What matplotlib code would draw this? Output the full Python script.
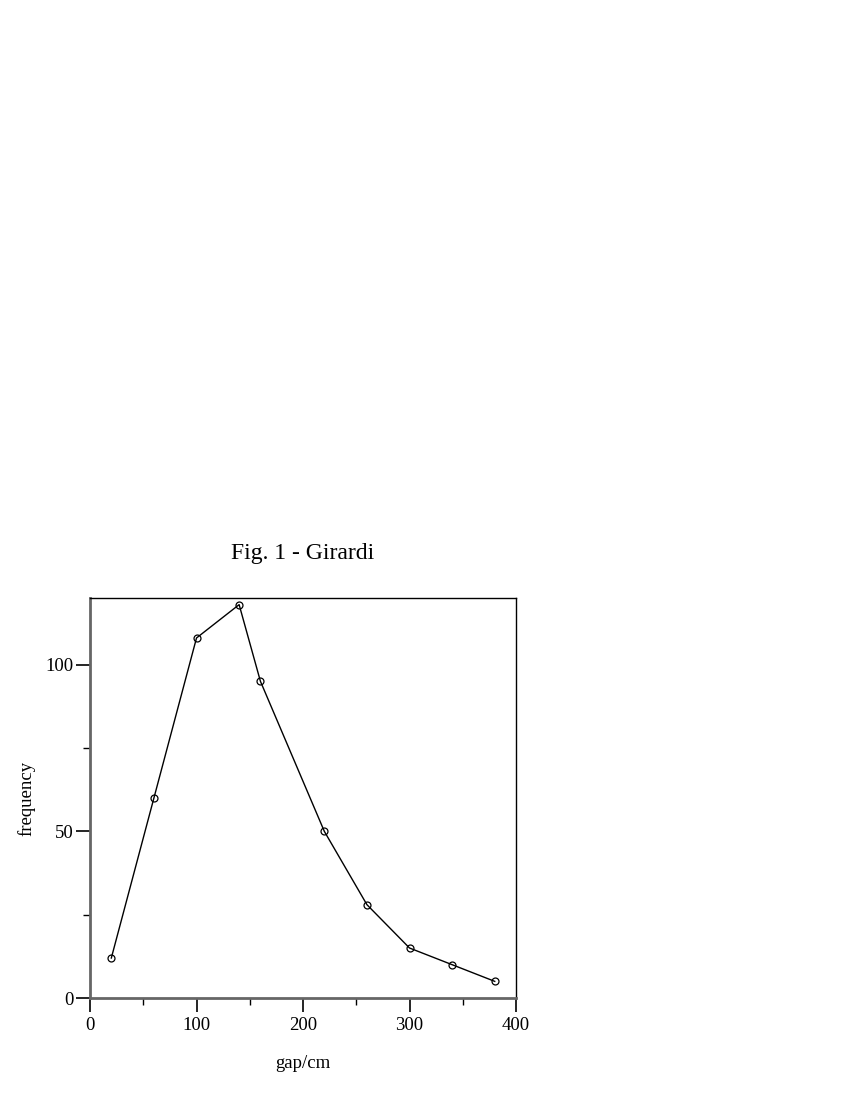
import matplotlib.pyplot as plt
from matplotlib.ticker import MultipleLocator

# gap distances (cm) and observed frequencies
gap_cm = [20, 60, 100, 140, 160, 220, 260, 300, 340, 380]
frequency = [12, 60, 108, 118, 95, 50, 28, 15, 10, 5]

plt.rcParams['font.family'] = ['Liberation Serif', 'DejaVu Serif']

fig = plt.figure(figsize=(8.5, 11), dpi=100)
ax = fig.add_axes([0.1059, 0.0927, 0.5012, 0.3637])

ax.plot(gap_cm, frequency, color='black', lw=1.0, marker='o', ms=5,
        mfc='none', mec='black', mew=0.9)

ax.set_xlim(0, 400)
ax.set_ylim(0, 120)
ax.xaxis.set_major_locator(MultipleLocator(100))
ax.xaxis.set_minor_locator(MultipleLocator(50))
ax.yaxis.set_major_locator(MultipleLocator(50))
ax.yaxis.set_minor_locator(MultipleLocator(25))
ax.tick_params(which='major', direction='out', length=10, width=1.2,
               labelsize=13.5)
ax.tick_params(axis='x', which='major', pad=4)
ax.tick_params(axis='y', which='major', pad=2)
ax.tick_params(which='minor', direction='out', length=5, width=1.0)

for side in ['left', 'bottom']:
    ax.spines[side].set_color('#666666')
    ax.spines[side].set_linewidth(2)
for side in ['top', 'right']:
    ax.spines[side].set_color('black')
    ax.spines[side].set_linewidth(1)

ax.set_title('Fig. 1 - Girardi', fontsize=17, pad=28)
ax.set_xlabel('gap/cm', fontsize=13.5, labelpad=15)
ax.set_ylabel('frequency', fontsize=13.5, labelpad=7)

fig.savefig('out.png', dpi=100)
